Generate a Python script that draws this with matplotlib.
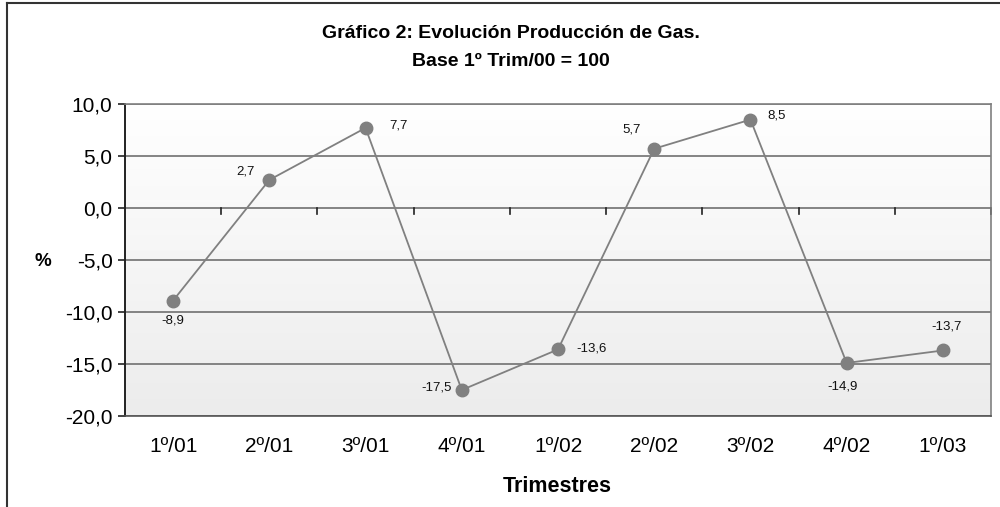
import numpy as np
import matplotlib
matplotlib.use("Agg")
import matplotlib.pyplot as plt
from matplotlib.lines import Line2D

plt.rcParams['font.family'] = ['Liberation Sans', 'DejaVu Sans']

trimestres = ["1º/01", "2º/01", "3º/01", "4º/01", "1º/02", "2º/02", "3º/02", "4º/02", "1º/03"]
valores = [-8.9, 2.7, 7.7, -17.5, -13.6, 5.7, 8.5, -14.9, -13.7]
# offsets (points) of each data label from its point
offsets = [(0, -14), (-17, 6), (24, 2), (-18, 2), (24, 1), (-16, 14), (19, 3), (-3, -17), (3, 17)]
yticks = [10, 5, 0, -5, -10, -15, -20]

fig = plt.figure(figsize=(10, 5.07), dpi=100)
ax = fig.add_axes([0.125, 1 - 416 / 507, 0.866, 312 / 507])

x = np.arange(len(trimestres))

# gradient background
grad = np.linspace(0, 1, 256).reshape(-1, 1)
ax.imshow(grad, extent=[-0.5, 8.5, -20, 10], aspect='auto', origin='upper',
          cmap=matplotlib.colors.LinearSegmentedColormap.from_list('bg', ['#ffffff', '#ececec']),
          zorder=0)

for yt in yticks:
    ax.axhline(yt, color='#707070', lw=1.2, zorder=1)

ax.plot(x, valores, color='#808080', lw=1.3, marker='o', markersize=9,
        markerfacecolor='#808080', markeredgecolor='#808080', zorder=3)

for xi, v, off in zip(x, valores, offsets):
    ax.annotate(f"{v:.1f}".replace('.', ','), (xi, v), xytext=off,
                textcoords='offset points', ha='center', va='center',
                fontsize=9.5, color='#111111')

# category separator ticks on the zero line
for b in np.arange(0.5, len(trimestres) - 0.5 + 1e-9, 1.0):
    ax.plot([b, b], [0, -0.55], color='#222222', lw=1.2, zorder=2, clip_on=False)
ax.plot([8.5, 8.5], [0, -0.55], color='#222222', lw=1.2, zorder=2)

ax.set_xlim(-0.5, 8.5)
ax.set_ylim(-20, 10)
ax.set_yticks(yticks)
ax.set_yticklabels([f"{t:.1f}".replace('.', ',') for t in yticks], fontsize=15)
ax.set_xticks(x)
ax.set_xticklabels(trimestres, fontsize=15)
ax.tick_params(axis='x', length=0, pad=15)
ax.tick_params(axis='y', length=5, width=1.2, color='#222222', pad=4)

for side in ['top', 'right', 'bottom']:
    ax.spines[side].set_color('#808080')
    ax.spines[side].set_linewidth(1.2)
ax.spines['left'].set_color('#222222')
ax.spines['left'].set_linewidth(1.4)
ax.spines['bottom'].set_color('#555555')

fig.text(0.511, 1 - 34 / 507, "Gráfico 2: Evolución Producción de Gas.", ha='center', va='center',
         fontsize=14, fontweight='bold')
fig.text(0.511, 1 - 62 / 507, "Base 1º Trim/00 = 100", ha='center', va='center',
         fontsize=14, fontweight='bold')
fig.text(0.043, 1 - 262 / 507, "%", ha='center', va='center', fontsize=13.5, fontweight='bold')
fig.text(0.557, 1 - 487 / 507, "Trimestres", ha='center', va='center', fontsize=15.5,
         fontweight='bold')

# outer frame (left and top edges visible)
fig.add_artist(Line2D([0.007, 0.007], [0, 1 - 3 / 507], color='#333333', lw=1.5))
fig.add_artist(Line2D([0.007, 1.0], [1 - 3 / 507, 1 - 3 / 507], color='#333333', lw=1.5))

fig.savefig("out.png", dpi=100)
